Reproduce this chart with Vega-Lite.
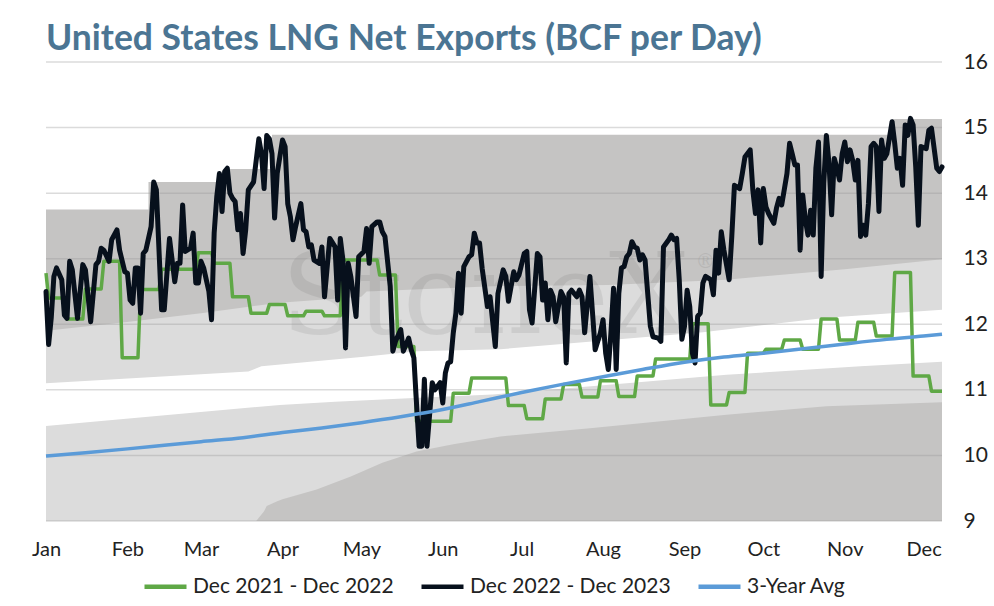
{
  "$schema": "https://vega.github.io/schema/vega-lite/v6.json",
  "width": 896,
  "height": 459,
  "autosize": "none",
  "padding": {"left": 46, "top": 62, "right": 52, "bottom": 85},
  "config": {"view": {"stroke": null}, "font": "Lato", "legend": {"layout": {"bottom": {"anchor": "middle"}}}},
  "title": {"text": "United States LNG Net Exports (BCF per Day)", "anchor": "start", "frame": "group", "font": "Lato", "fontSize": 35.5, "fontWeight": "bold", "color": "#4b7593", "offset": 12, "dy": 18},
  "layer": [
    {
      "data": {"values": [{"d":1,"v":13.75},{"d":40,"v":14.17},{"d":71,"v":14.37},{"d":87,"v":14.89},{"d":323,"v":15.13},{"d":342,"v":15.13}], "format": {"parse": {"d": "utc:'%j'"}}},
      "mark": {"type": "area", "interpolate": "step-after", "color": "#c5c4c3"},
      "encoding": {
        "x": {"field": "d", "type": "temporal", "scale": {"type": "utc", "domain": [{"year":1900,"month":1,"date":1,"utc":true},{"year":1900,"month":12,"date":8,"utc":true}]}, "axis": {"format": "%b", "tickCount": {"interval": "month", "step": 1}, "grid": false, "ticks": false, "domain": false, "labelFontSize": 20, "labelColor": "#222222", "labelPadding": 18, "labelFlush": false, "labelOverlap": false, "title": null}},
        "y": {"field": "v", "type": "quantitative", "scale": {"domain": [9, 16], "nice": false, "zero": false}, "axis": {"orient": "right", "values": [9,10,11,12,13,14,15,16], "format": "d", "grid": false, "ticks": false, "domain": false, "labelFontSize": 21, "labelColor": "#222222", "labelPadding": 21, "title": null}},
        "y2": {"datum": 9}
      }
    },
    {
      "data": {"values": [{"d":1,"v":11.90},{"d":31,"v":12.03},{"d":60,"v":12.17},{"d":90,"v":12.33},{"d":121,"v":12.42},{"d":123,"v":12.50},{"d":171,"v":12.58},{"d":215,"v":12.60},{"d":260,"v":12.68},{"d":305,"v":12.84},{"d":342,"v":12.99}], "format": {"parse": {"d": "utc:'%j'"}}},
      "mark": {"type": "area", "color": "#dcdcdc"},
      "encoding": {"x": {"field": "d", "type": "temporal"}, "y": {"field": "v", "type": "quantitative"}, "y2": {"datum": 9}}
    },
    {
      "data": {"values": [{"d":1,"v":11.10},{"d":78,"v":11.28},{"d":83,"v":11.36},{"d":123,"v":11.51},{"d":142,"v":11.59},{"d":174,"v":11.62},{"d":251,"v":11.88},{"d":298,"v":12.10},{"d":342,"v":12.22}], "format": {"parse": {"d": "utc:'%j'"}}},
      "mark": {"type": "area", "color": "#ffffff"},
      "encoding": {"x": {"field": "d", "type": "temporal"}, "y": {"field": "v", "type": "quantitative"}, "y2": {"datum": 9}}
    },
    {
      "data": {"values": [{"d":1,"v":10.45},{"d":90,"v":10.77},{"d":111,"v":10.82},{"d":143,"v":10.88},{"d":171,"v":10.93},{"d":222,"v":11.10},{"d":260,"v":11.23},{"d":311,"v":11.36},{"d":342,"v":11.43}], "format": {"parse": {"d": "utc:'%j'"}}},
      "mark": {"type": "area", "color": "#dcdcdc"},
      "encoding": {"x": {"field": "d", "type": "temporal"}, "y": {"field": "v", "type": "quantitative"}, "y2": {"datum": 9}}
    },
    {
      "data": {"values": [{"d":1,"v":9.0},{"d":81,"v":9.0},{"d":84,"v":9.15},{"d":85,"v":9.23},{"d":89,"v":9.30},{"d":91,"v":9.33},{"d":104,"v":9.48},{"d":117,"v":9.68},{"d":129,"v":9.89},{"d":142,"v":10.06},{"d":156,"v":10.17},{"d":174,"v":10.29},{"d":209,"v":10.42},{"d":260,"v":10.62},{"d":298,"v":10.75},{"d":342,"v":10.81}], "format": {"parse": {"d": "utc:'%j'"}}},
      "mark": {"type": "area", "color": "#c5c4c3"},
      "encoding": {"x": {"field": "d", "type": "temporal"}, "y": {"field": "v", "type": "quantitative"}, "y2": {"datum": 9}}
    },
    {
      "data": {"values": [{"d":168,"v":11.87,"t":"StoneX","s":112},{"d":252,"v":12.86,"t":"®","s":20}], "format": {"parse": {"d": "utc:'%j'"}}},
      "mark": {"type": "text", "font": "DejaVu Serif", "baseline": "alphabetic", "align": "center", "color": "#000000", "opacity": 0.065},
      "encoding": {"x": {"field": "d", "type": "temporal"}, "y": {"field": "v", "type": "quantitative"}, "text": {"field": "t"}, "size": {"field": "s", "type": "quantitative", "scale": null, "legend": null}}
    },
    {
      "data": {"values": [{"v":9},{"v":10},{"v":11},{"v":12},{"v":13},{"v":14},{"v":15},{"v":16}]},
      "mark": {"type": "rule", "color": "#999999", "opacity": 0.35, "strokeWidth": 1.5},
      "encoding": {"y": {"field": "v", "type": "quantitative"}}
    },
    {
      "data": {"values": [{"d":1,"v":12.78},{"d":2,"v":12.40},{"d":8,"v":12.40},{"d":9,"v":12.08},{"d":15,"v":12.08},{"d":16,"v":12.54},{"d":22,"v":12.54},{"d":23,"v":12.96},{"d":29,"v":12.96},{"d":30,"v":11.49},{"d":36,"v":11.49},{"d":37,"v":12.53},{"d":44,"v":12.53},{"d":45,"v":12.84},{"d":58,"v":12.84},{"d":59,"v":13.09},{"d":64,"v":13.09},{"d":65,"v":12.93},{"d":71,"v":12.93},{"d":72,"v":12.42},{"d":78,"v":12.42},{"d":79,"v":12.17},{"d":85,"v":12.17},{"d":86,"v":12.30},{"d":92,"v":12.30},{"d":93,"v":12.13},{"d":99,"v":12.13},{"d":100,"v":12.20},{"d":106,"v":12.20},{"d":107,"v":12.13},{"d":113,"v":12.13},{"d":114,"v":12.98},{"d":127,"v":12.98},{"d":128,"v":12.75},{"d":134,"v":12.75},{"d":135,"v":11.66},{"d":141,"v":11.66},{"d":142,"v":10.52},{"d":155,"v":10.52},{"d":156,"v":10.95},{"d":162,"v":10.95},{"d":163,"v":11.18},{"d":176,"v":11.18},{"d":177,"v":10.76},{"d":183,"v":10.76},{"d":184,"v":10.56},{"d":190,"v":10.56},{"d":191,"v":10.86},{"d":197,"v":10.86},{"d":198,"v":11.08},{"d":204,"v":11.08},{"d":205,"v":10.89},{"d":211,"v":10.89},{"d":212,"v":11.14},{"d":218,"v":11.14},{"d":219,"v":10.90},{"d":225,"v":10.90},{"d":226,"v":11.21},{"d":232,"v":11.21},{"d":233,"v":11.47},{"d":246,"v":11.47},{"d":247,"v":12.01},{"d":253,"v":12.01},{"d":254,"v":10.77},{"d":260,"v":10.77},{"d":261,"v":10.96},{"d":267,"v":10.96},{"d":268,"v":11.56},{"d":274,"v":11.56},{"d":275,"v":11.62},{"d":281,"v":11.62},{"d":282,"v":11.76},{"d":288,"v":11.76},{"d":289,"v":11.62},{"d":295,"v":11.62},{"d":296,"v":12.08},{"d":302,"v":12.08},{"d":303,"v":11.76},{"d":309,"v":11.76},{"d":310,"v":12.03},{"d":316,"v":12.03},{"d":317,"v":11.82},{"d":323,"v":11.82},{"d":324,"v":12.79},{"d":330,"v":12.79},{"d":331,"v":11.21},{"d":337,"v":11.21},{"d":338,"v":10.98},{"d":342,"v":10.98}], "format": {"parse": {"d": "utc:'%j'"}}},
      "mark": {"type": "line", "strokeWidth": 3.5, "strokeJoin": "round"},
      "encoding": {
        "x": {"field": "d", "type": "temporal"},
        "y": {"field": "v", "type": "quantitative"},
        "color": {"datum": "Dec 2021 - Dec 2022", "scale": {"domain": ["Dec 2021 - Dec 2022", "Dec 2022 - Dec 2023", "3-Year Avg"], "range": ["#5fa846", "#07101c", "#5b9bd8"]}, "legend": {"orient": "bottom", "direction": "horizontal", "title": null, "symbolType": "stroke", "symbolSize": 1764, "symbolStrokeWidth": 4.5, "labelFontSize": 21, "labelLimit": 400, "labelColor": "#222222", "labelFont": "Lato", "labelOffset": 4, "columnPadding": 18, "offset": 4}}
      }
    },
    {
      "data": {"values": [{"d":1,"v":12.50},{"d":2,"v":11.69},{"d":3,"v":12.10},{"d":4,"v":12.73},{"d":5,"v":12.86},{"d":7,"v":12.68},{"d":8,"v":12.14},{"d":9,"v":12.09},{"d":10,"v":12.96},{"d":11,"v":12.83},{"d":13,"v":12.09},{"d":15,"v":12.91},{"d":16,"v":12.83},{"d":18,"v":12.04},{"d":20,"v":12.91},{"d":21,"v":12.96},{"d":22,"v":13.16},{"d":23,"v":13.13},{"d":25,"v":12.96},{"d":26,"v":13.29},{"d":28,"v":13.44},{"d":29,"v":13.13},{"d":31,"v":12.80},{"d":32,"v":12.78},{"d":33,"v":12.37},{"d":34,"v":12.32},{"d":35,"v":12.86},{"d":36,"v":12.86},{"d":37,"v":12.17},{"d":38,"v":13.08},{"d":39,"v":13.13},{"d":41,"v":13.49},{"d":42,"v":14.17},{"d":43,"v":14.05},{"d":45,"v":12.22},{"d":46,"v":12.22},{"d":48,"v":13.31},{"d":50,"v":12.65},{"d":51,"v":12.93},{"d":52,"v":12.93},{"d":53,"v":13.82},{"d":54,"v":13.11},{"d":56,"v":13.16},{"d":57,"v":13.39},{"d":58,"v":12.63},{"d":59,"v":12.63},{"d":60,"v":12.96},{"d":61,"v":12.86},{"d":63,"v":12.50},{"d":64,"v":12.07},{"d":65,"v":13.39},{"d":66,"v":13.95},{"d":67,"v":14.30},{"d":68,"v":13.72},{"d":69,"v":14.33},{"d":70,"v":14.38},{"d":71,"v":14.00},{"d":72,"v":13.92},{"d":73,"v":13.87},{"d":74,"v":13.44},{"d":75,"v":13.69},{"d":76,"v":13.08},{"d":77,"v":13.44},{"d":78,"v":14.05},{"d":80,"v":14.17},{"d":82,"v":14.83},{"d":83,"v":14.60},{"d":84,"v":14.07},{"d":85,"v":14.88},{"d":86,"v":14.83},{"d":87,"v":14.60},{"d":88,"v":13.62},{"d":89,"v":14.30},{"d":91,"v":14.81},{"d":92,"v":14.71},{"d":93,"v":13.84},{"d":94,"v":13.64},{"d":95,"v":13.29},{"d":96,"v":13.49},{"d":98,"v":13.84},{"d":99,"v":13.44},{"d":100,"v":13.41},{"d":101,"v":13.18},{"d":102,"v":13.21},{"d":103,"v":12.98},{"d":105,"v":12.93},{"d":106,"v":13.18},{"d":107,"v":12.42},{"d":109,"v":13.31},{"d":111,"v":13.18},{"d":112,"v":12.37},{"d":113,"v":13.31},{"d":114,"v":12.98},{"d":115,"v":11.64},{"d":116,"v":12.93},{"d":117,"v":12.73},{"d":119,"v":12.12},{"d":120,"v":13.03},{"d":122,"v":13.11},{"d":123,"v":13.46},{"d":124,"v":12.93},{"d":125,"v":13.49},{"d":127,"v":13.56},{"d":128,"v":13.56},{"d":129,"v":13.41},{"d":130,"v":13.34},{"d":132,"v":12.58},{"d":133,"v":11.59},{"d":134,"v":11.74},{"d":136,"v":11.92},{"d":137,"v":11.59},{"d":139,"v":11.79},{"d":140,"v":11.61},{"d":141,"v":11.49},{"d":142,"v":10.80},{"d":143,"v":10.14},{"d":144,"v":10.14},{"d":145,"v":11.16},{"d":146,"v":10.14},{"d":148,"v":11.11},{"d":149,"v":11.00},{"d":151,"v":11.11},{"d":152,"v":10.80},{"d":153,"v":11.26},{"d":154,"v":11.41},{"d":155,"v":11.43},{"d":156,"v":11.87},{"d":157,"v":12.17},{"d":158,"v":12.78},{"d":159,"v":12.17},{"d":160,"v":12.88},{"d":162,"v":13.03},{"d":163,"v":13.06},{"d":164,"v":13.39},{"d":165,"v":13.24},{"d":166,"v":13.24},{"d":167,"v":12.85},{"d":169,"v":12.27},{"d":170,"v":12.42},{"d":172,"v":11.66},{"d":173,"v":12.47},{"d":175,"v":12.83},{"d":176,"v":12.73},{"d":177,"v":12.35},{"d":179,"v":12.80},{"d":180,"v":12.68},{"d":181,"v":12.75},{"d":183,"v":13.08},{"d":184,"v":13.11},{"d":185,"v":12.22},{"d":186,"v":12.02},{"d":188,"v":13.08},{"d":189,"v":13.03},{"d":190,"v":12.37},{"d":191,"v":12.63},{"d":192,"v":12.07},{"d":193,"v":12.52},{"d":194,"v":12.42},{"d":195,"v":12.04},{"d":197,"v":12.50},{"d":198,"v":12.42},{"d":199,"v":11.41},{"d":200,"v":12.47},{"d":201,"v":12.52},{"d":203,"v":12.42},{"d":204,"v":12.52},{"d":205,"v":12.42},{"d":206,"v":11.87},{"d":208,"v":12.73},{"d":209,"v":12.17},{"d":210,"v":11.61},{"d":212,"v":11.87},{"d":213,"v":12.07},{"d":214,"v":11.56},{"d":215,"v":11.31},{"d":216,"v":11.87},{"d":217,"v":12.55},{"d":218,"v":11.31},{"d":219,"v":12.47},{"d":220,"v":12.86},{"d":221,"v":12.88},{"d":222,"v":13.03},{"d":223,"v":13.08},{"d":224,"v":13.26},{"d":225,"v":13.18},{"d":226,"v":13.16},{"d":227,"v":12.98},{"d":228,"v":13.06},{"d":229,"v":12.98},{"d":230,"v":12.47},{"d":231,"v":11.97},{"d":232,"v":11.81},{"d":234,"v":11.79},{"d":235,"v":11.74},{"d":236,"v":13.18},{"d":238,"v":13.29},{"d":239,"v":13.36},{"d":240,"v":13.29},{"d":241,"v":13.31},{"d":242,"v":12.68},{"d":243,"v":11.77},{"d":244,"v":11.97},{"d":245,"v":12.52},{"d":246,"v":12.27},{"d":247,"v":11.56},{"d":248,"v":11.41},{"d":249,"v":12.12},{"d":250,"v":12.17},{"d":251,"v":12.63},{"d":252,"v":12.73},{"d":254,"v":12.68},{"d":255,"v":12.45},{"d":256,"v":13.13},{"d":257,"v":12.78},{"d":258,"v":13.41},{"d":259,"v":13.13},{"d":261,"v":12.68},{"d":262,"v":13.34},{"d":263,"v":14.12},{"d":265,"v":14.07},{"d":266,"v":14.30},{"d":267,"v":14.55},{"d":269,"v":14.66},{"d":270,"v":14.05},{"d":271,"v":13.69},{"d":272,"v":14.05},{"d":273,"v":13.24},{"d":274,"v":14.07},{"d":275,"v":13.79},{"d":276,"v":13.69},{"d":278,"v":13.54},{"d":279,"v":13.77},{"d":280,"v":13.92},{"d":281,"v":13.82},{"d":283,"v":14.30},{"d":284,"v":14.76},{"d":285,"v":14.60},{"d":286,"v":14.43},{"d":287,"v":14.43},{"d":288,"v":13.13},{"d":289,"v":13.97},{"d":290,"v":13.59},{"d":291,"v":13.36},{"d":292,"v":13.74},{"d":293,"v":13.36},{"d":294,"v":14.38},{"d":295,"v":14.78},{"d":296,"v":12.73},{"d":297,"v":14.15},{"d":298,"v":14.88},{"d":299,"v":14.45},{"d":300,"v":13.67},{"d":301,"v":14.53},{"d":302,"v":14.38},{"d":303,"v":14.20},{"d":304,"v":14.60},{"d":305,"v":14.78},{"d":306,"v":14.48},{"d":307,"v":14.66},{"d":308,"v":14.50},{"d":309,"v":14.20},{"d":310,"v":14.50},{"d":311,"v":13.34},{"d":312,"v":13.51},{"d":313,"v":13.36},{"d":314,"v":13.84},{"d":315,"v":14.71},{"d":316,"v":14.76},{"d":317,"v":14.71},{"d":318,"v":13.72},{"d":319,"v":14.81},{"d":320,"v":14.53},{"d":321,"v":14.60},{"d":323,"v":15.09},{"d":324,"v":14.76},{"d":325,"v":14.38},{"d":326,"v":14.53},{"d":327,"v":14.12},{"d":328,"v":15.04},{"d":329,"v":14.88},{"d":330,"v":15.14},{"d":331,"v":15.04},{"d":332,"v":14.40},{"d":333,"v":13.51},{"d":334,"v":14.71},{"d":336,"v":14.68},{"d":337,"v":14.96},{"d":338,"v":14.99},{"d":340,"v":14.38},{"d":341,"v":14.33},{"d":342,"v":14.40}], "format": {"parse": {"d": "utc:'%j'"}}},
      "mark": {"type": "line", "strokeWidth": 5, "strokeJoin": "round", "strokeCap": "round"},
      "encoding": {"x": {"field": "d", "type": "temporal"}, "y": {"field": "v", "type": "quantitative"}, "color": {"datum": "Dec 2022 - Dec 2023"}}
    },
    {
      "data": {"values": [{"d":1,"v":9.99},{"d":16,"v":10.04},{"d":32,"v":10.10},{"d":47,"v":10.16},{"d":60,"v":10.21},{"d":76,"v":10.27},{"d":91,"v":10.35},{"d":106,"v":10.42},{"d":121,"v":10.50},{"d":136,"v":10.59},{"d":152,"v":10.70},{"d":166,"v":10.82},{"d":182,"v":10.96},{"d":197,"v":11.08},{"d":213,"v":11.20},{"d":228,"v":11.31},{"d":244,"v":11.42},{"d":259,"v":11.50},{"d":274,"v":11.56},{"d":290,"v":11.63},{"d":305,"v":11.70},{"d":321,"v":11.77},{"d":335,"v":11.82},{"d":342,"v":11.85}], "format": {"parse": {"d": "utc:'%j'"}}},
      "mark": {"type": "line", "strokeWidth": 3.5, "interpolate": "monotone"},
      "encoding": {"x": {"field": "d", "type": "temporal"}, "y": {"field": "v", "type": "quantitative"}, "color": {"datum": "3-Year Avg"}}
    }
  ]
}
